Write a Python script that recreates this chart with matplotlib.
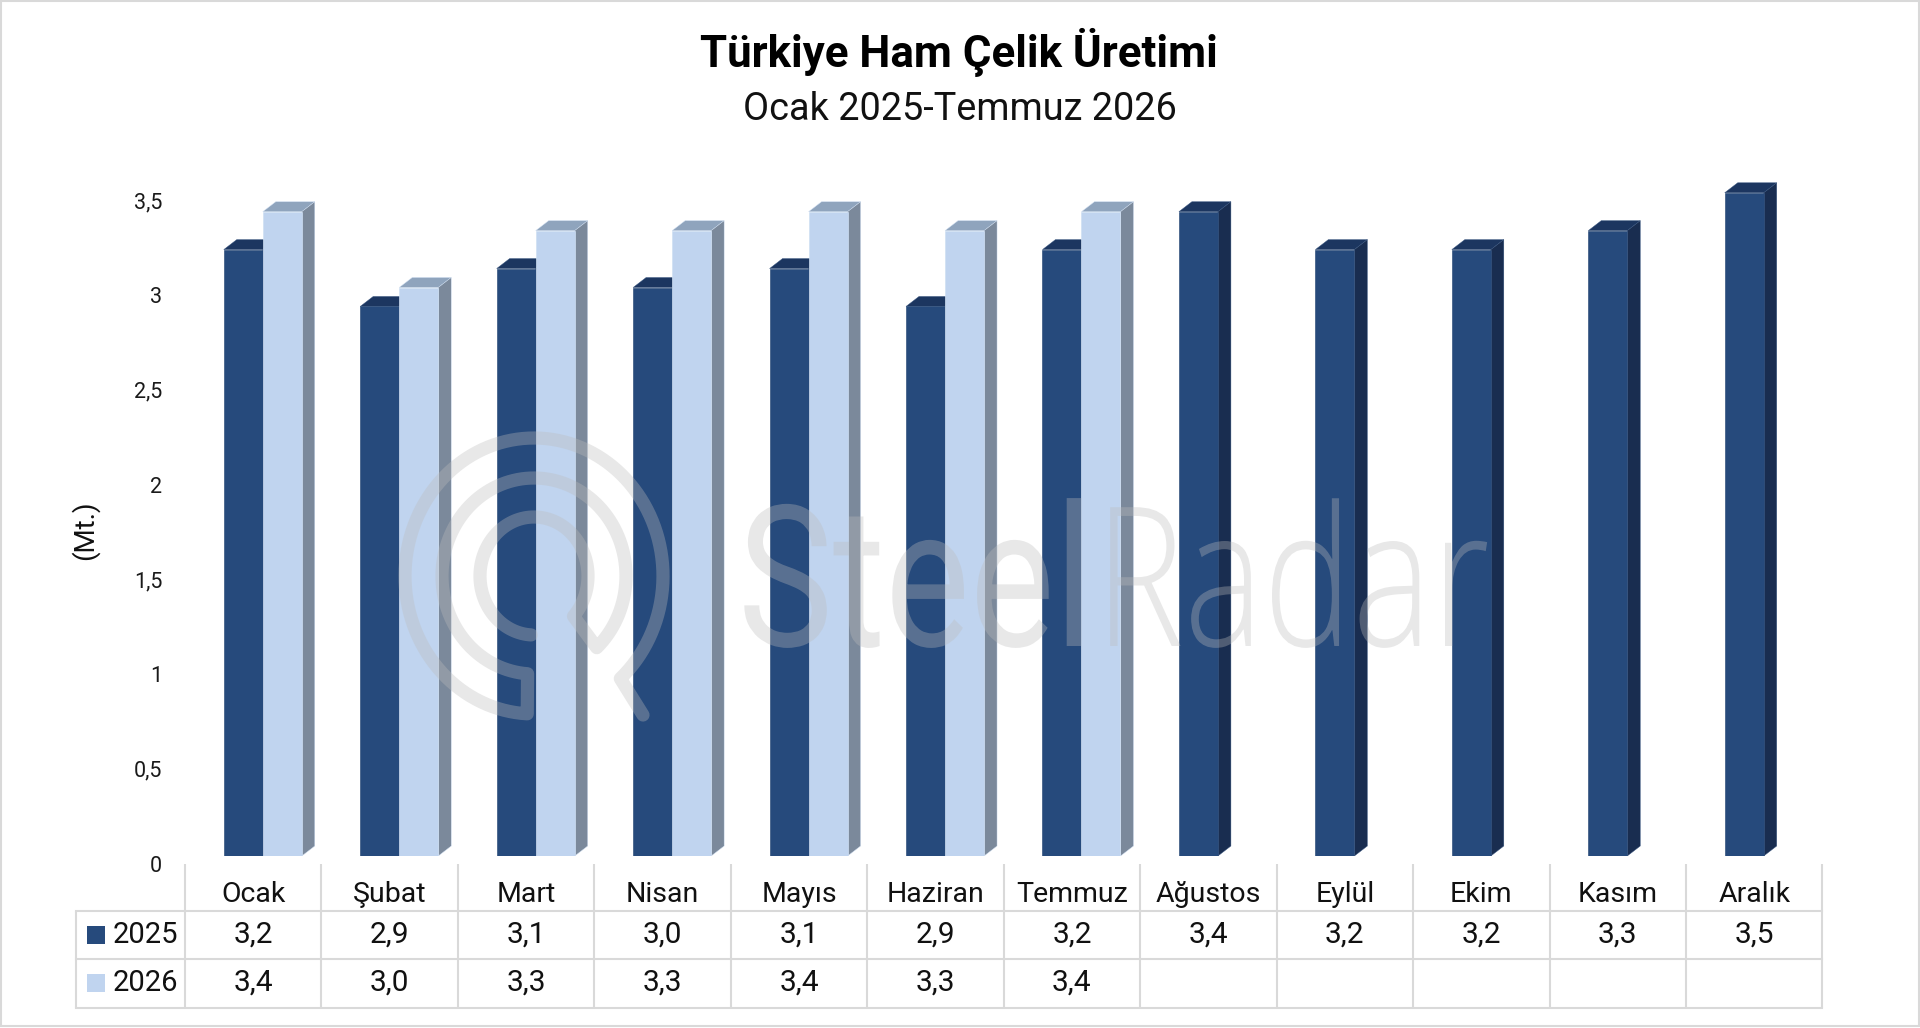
#!/usr/bin/env python3

import numpy as np
import matplotlib
matplotlib.use('Agg')
import matplotlib.pyplot as plt
import matplotlib.patheffects as pe
from matplotlib.patches import Polygon, Rectangle
from matplotlib.transforms import Affine2D, ScaledTranslation

months = ['Ocak', 'Şubat', 'Mart', 'Nisan', 'Mayıs', 'Haziran', 'Temmuz',
          'Ağustos', 'Eylül', 'Ekim', 'Kasım', 'Aralık']
values_2025 = [3.2, 2.9, 3.1, 3.0, 3.1, 2.9, 3.2, 3.4, 3.2, 3.2, 3.3, 3.5]
values_2026 = [3.4, 3.0, 3.3, 3.3, 3.4, 3.3, 3.4, None, None, None, None, None]
y_ticks = [0, 0.5, 1, 1.5, 2, 2.5, 3, 3.5]

W, H = 1920, 1028
COL_W = 136.45         # table column width in px
X0 = 185               # left edge of the month columns
Y_BASE = 856           # px row of value 0 on the bar fronts
PX_PER_UNIT = 189.5
GRID = '#d9d9d9'

plt.rcParams['font.family'] = ['Roboto', 'DejaVu Sans']


class Squeeze(pe.AbstractPathEffect):
    """Narrow the glyphs, the watermark font is a tall condensed one."""
    def __init__(self, sx):
        super().__init__()
        self.sx = sx

    def draw_path(self, renderer, gc, tpath, affine, rgbFace=None):
        renderer.draw_path(gc, tpath, Affine2D().scale(self.sx, 1) + affine, rgbFace)


fig = plt.figure(figsize=(W / 100, H / 100), dpi=100)
ax = fig.add_axes([X0 / W, 1 - Y_BASE / H, 12 * COL_W / W, 3.7 * PX_PER_UNIT / H])
ax.set_xlim(-0.5, 11.5)
ax.set_ylim(0, 3.7)
for s in ax.spines.values():
    s.set_visible(False)
ax.set_xticks([])
ax.set_yticks(y_ticks)
ax.set_yticklabels([f'{t:g}'.replace('.', ',') for t in y_ticks], fontsize=15.5, color='#1a1a1a')
ax.tick_params(axis='y', length=0, pad=16.5)
for lab in ax.get_yticklabels():   # labels sit on the back wall, a little lower
    lab.set_transform(lab.get_transform() + ScaledTranslation(0, -7.5 / 100, fig.dpi_scale_trans))

BAR_W = 39 / COL_W
DX = 13 / COL_W        # 3D depth
DY = 10 / PX_PER_UNIT


def bar3d(x, v, front, side, top, edge, z):
    ax.bar(x, v, BAR_W, color=front, edgecolor=edge, linewidth=0.5, zorder=z + 0.2)
    l, r = x - BAR_W / 2, x + BAR_W / 2
    ax.add_patch(Polygon([(l, v), (l + DX, v + DY), (r + DX, v + DY), (r, v)],
                         facecolor=top, edgecolor=edge, linewidth=0.3, zorder=z))
    ax.add_patch(Polygon([(r, 0), (r + DX, DY), (r + DX, v + DY), (r, v)],
                         facecolor=side, edgecolor=edge, linewidth=0.3, zorder=z))


for i in range(len(months)):
    bar3d(i - 0.073, values_2025[i], '#264a7c', '#192d50', '#1c3660', '#36547f', 2 + i * 0.01)
    if values_2026[i] is not None:
        bar3d(i + 0.213, values_2026[i], '#c0d4ef', '#7b899b', '#8fa4bd', '#cfdff3', 3 + i * 0.01)

# overlay in pixel coordinates: titles, table, watermark, frame
ov = fig.add_axes([0, 0, 1, 1], zorder=5)
ov.set_xlim(0, W)
ov.set_ylim(H, 0)
ov.axis('off')

ov.text(959, 67, 'Türkiye Ham Çelik Üretimi', fontsize=31.6, fontweight='bold',
        ha='center', va='baseline', color='black')
ov.text(960, 120, 'Ocak 2025-Temmuz 2026', fontsize=27.3, ha='center', va='baseline', color='#111111')
ov.text(85, 530, '(Mt.)', fontsize=20, rotation=90, ha='center', va='center', color='#111111')

# table
x_lines = [X0 + COL_W * i for i in range(13)]
x_right = x_lines[-1]
for x in x_lines:
    ov.plot([x, x], [864, 1008], color=GRID, lw=1.5, solid_capstyle='butt')
ov.plot([76, 76], [911, 1008], color=GRID, lw=1.5, solid_capstyle='butt')
for y in (911, 959, 1008):
    ov.plot([76, x_right], [y, y], color=GRID, lw=1.5, solid_capstyle='projecting')

for i, m in enumerate(months):
    xc = X0 + COL_W * (i + 0.5)
    ov.text(xc, 902, m, fontsize=20.5, ha='center', va='baseline', color='#111111')
    ov.text(xc, 943, f'{values_2025[i]:.1f}'.replace('.', ','), fontsize=21.5,
            ha='center', va='baseline', color='#111111')
    if values_2026[i] is not None:
        ov.text(xc, 991, f'{values_2026[i]:.1f}'.replace('.', ','), fontsize=21.5,
                ha='center', va='baseline', color='#111111')

for year, yb, col in (('2025', 943, '#264a7c'), ('2026', 991, '#c0d4ef')):
    ov.add_patch(Rectangle((87, yb - 17), 18, 18, facecolor=col, edgecolor='none'))
    ov.text(113, yb, year, fontsize=21, ha='left', va='baseline', color='#111111')

# watermark logo, one continuous stroke
WM = '#bcbcbc'
WM_A = 0.34
cx, cy = 534, 576


def arc(rx, ry, t0, t1):
    t = np.radians(np.linspace(t0, t1, 120))
    return np.c_[cx + rx * np.cos(t), cy + ry * np.sin(t)]


logo = np.vstack([
    [[643, 715]],
    arc(129, 138, 48, -267),
    arc(92, 98, 94, 407),
    arc(54, 59, 43, -267),
])
ov.plot(logo[:, 0], logo[:, 1], color=WM, alpha=WM_A, lw=9.5,
        solid_capstyle='round', solid_joinstyle='round')

ov.text(738, 646, 'Steel', fontsize=142, color=WM, alpha=WM_A, ha='left', va='baseline',
        path_effects=[Squeeze(0.81)])
ov.text(1095, 646, 'Radar', fontsize=140, family='Open Sans', fontweight='light', color=WM, alpha=WM_A,
        ha='left', va='baseline', path_effects=[Squeeze(0.77)])

# outer frame
ov.add_patch(Rectangle((1, 1), W - 2.5, H - 3, facecolor='none', edgecolor=GRID, lw=1.5))

fig.savefig('out.png', dpi=100, facecolor='white')
